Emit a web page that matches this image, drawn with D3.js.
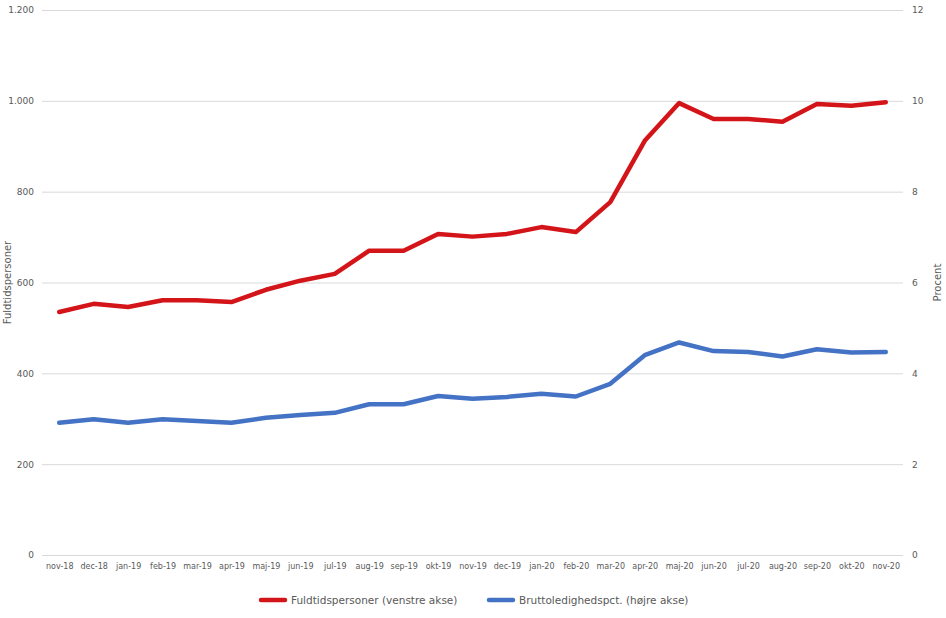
<!DOCTYPE html>
<html><head><meta charset="utf-8">
<script src="https://cdn.jsdelivr.net/npm/d3@7"></script>
<style>body{margin:0;background:#fff}svg{display:block}text{font-family:"DejaVu Sans",Verdana,sans-serif}</style>
</head><body><svg id="c" width="946" height="618"></svg>
<script>
const months = ["nov-18","dec-18","jan-19","feb-19","mar-19","apr-19","maj-19","jun-19","jul-19","aug-19","sep-19","okt-19","nov-19","dec-19","jan-20","feb-20","mar-20","apr-20","maj-20","jun-20","jul-20","aug-20","sep-20","okt-20","nov-20"];
const fuldtid = [535,553,546,561,561,557,584,604,619,670,670,707,701,707,722,711,777,912,995,960,960,954,993,989,997];
const brutto = [2.91,2.99,2.91,2.99,2.95,2.91,3.02,3.08,3.13,3.32,3.32,3.50,3.44,3.48,3.55,3.49,3.77,4.40,4.68,4.49,4.47,4.37,4.53,4.46,4.47];
const leftTicks = [0,200,400,600,800,1000,1200];
const rightTicks = [0,2,4,6,8,10,12];
const seriesNames = ["Fuldtidspersoner (venstre akse)","Bruttoledighedspct. (højre akse)"];
const colors = ["#d31418","#4472c4"];

const svg = d3.select("#c");
const L = 42, R = 903, T = 10, B = 555;
const x = d3.scalePoint().domain(months).range([L, R]).padding(0.5);
const yL = d3.scaleLinear().domain([0,1200]).range([B, T]);
const yR = d3.scaleLinear().domain([0,12]).range([B, T]);
const fmt = d3.formatLocale({decimal:",",thousands:".",grouping:[3],currency:["",""]}).format(",d");

// gridlines
svg.append("g").selectAll("line").data(leftTicks).join("line")
  .attr("x1", L).attr("x2", R).attr("y1", d => yL(d)+0.5).attr("y2", d => yL(d)+0.5)
  .attr("stroke", "#d9d9d9").attr("stroke-width", 1);

// left axis
const gl = svg.append("g").attr("transform", `translate(${L},0)`)
  .call(d3.axisLeft(yL).tickValues(leftTicks).tickSize(0).tickPadding(8).tickFormat(fmt));
gl.select(".domain").remove();
gl.selectAll("text").attr("fill","#595959").style("font-size","9px").style("font-family","DejaVu Sans, Verdana, sans-serif");

// right axis
const gr = svg.append("g").attr("transform", `translate(${R},0)`)
  .call(d3.axisRight(yR).tickValues(rightTicks).tickSize(0).tickPadding(9));
gr.select(".domain").remove();
gr.selectAll("text").attr("fill","#595959").style("font-size","9px").style("font-family","DejaVu Sans, Verdana, sans-serif");

// x axis
const gx = svg.append("g").attr("transform", `translate(0,${B})`)
  .call(d3.axisBottom(x).tickSize(0).tickPadding(8));
gx.select(".domain").remove();
gx.selectAll("text").attr("fill","#595959").style("font-size","8px").style("font-family","DejaVu Sans, Verdana, sans-serif");

// axis titles
svg.append("text").attr("transform", `translate(11,${(T+B)/2}) rotate(-90)`)
  .attr("text-anchor","middle").attr("fill","#595959").style("font-size","10px").text("Fuldtidspersoner");
svg.append("text").attr("transform", `translate(941,${(T+B)/2}) rotate(-90)`)
  .attr("text-anchor","middle").attr("fill","#595959").style("font-size","10px").text("Procent");

// lines
const lineL = d3.line().x((d,i) => x(months[i])).y(d => yL(d));
const lineR = d3.line().x((d,i) => x(months[i])).y(d => yR(d));
svg.append("path").datum(brutto).attr("d", lineR).attr("fill","none")
  .attr("stroke", colors[1]).attr("stroke-width", 4.5).attr("stroke-linejoin","round").attr("stroke-linecap","round");
svg.append("path").datum(fuldtid).attr("d", lineL).attr("fill","none")
  .attr("stroke", colors[0]).attr("stroke-width", 4.5).attr("stroke-linejoin","round").attr("stroke-linecap","round");

// legend
const legX = [259, 487];
const lg = svg.append("g");
seriesNames.forEach((n,i) => {
  lg.append("line").attr("x1", legX[i]+2).attr("x2", legX[i]+26).attr("y1", 600).attr("y2", 600)
    .attr("stroke", colors[i]).attr("stroke-width", 4.5).attr("stroke-linecap","round");
  lg.append("text").attr("x", legX[i]+32).attr("y", 600).attr("dy","0.35em")
    .attr("fill","#595959").style("font-size","10.5px").text(n);
});
</script></body></html>
